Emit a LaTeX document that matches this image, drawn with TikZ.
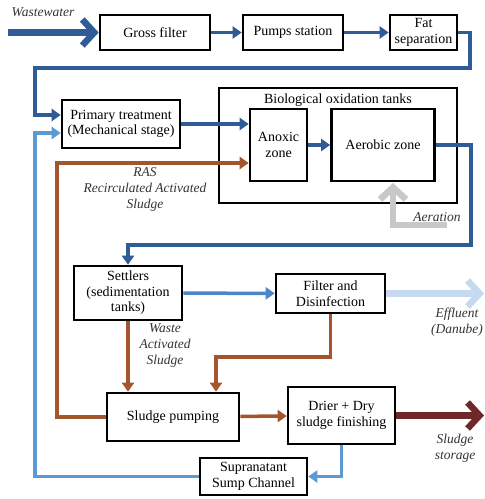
\documentclass[tikz,border=0pt]{standalone}
\usepackage{fontspec}
\setmainfont{Liberation Serif}
\usetikzlibrary{arrows.meta}
\definecolor{wblue}{RGB}{47,92,151}
\definecolor{mblue}{RGB}{74,134,200}
\definecolor{lblue}{RGB}{91,155,213}
\definecolor{effblue}{RGB}{198,217,240}
\definecolor{sbrown}{RGB}{165,85,45}
\definecolor{maroon}{RGB}{110,40,40}
\definecolor{airgray}{RGB}{200,200,200}
\begin{document}
\begin{tikzpicture}[x=1pt,y=-1pt,
  font=\fontsize{14}{15.5}\selectfont,
  box/.style={draw, line width=2.6pt, align=center, inner sep=0pt},
  flow/.style={line width=3.5pt, -{Triangle[length=9pt,width=12pt]}},
  bigarrow/.style={line width=6.5pt, -{Straight Barb[length=12pt,width=26pt]}},
  lab/.style={font=\fontsize{13.5}{16}\selectfont\itshape, align=center, text=black!80}]
\useasboundingbox (0,0) rectangle (485,499);

\node[box, minimum width=110pt, minimum height=35pt] (gross) at (155,32.5) {Gross filter};
\node[box, minimum width=100pt, minimum height=35pt] (pumps) at (293,32.5) {Pumps station};
\node[box, minimum width=67pt, minimum height=35pt] (fat) at (423.5,32.5) {Fat\\separation};
\node[box, minimum width=118pt, minimum height=48pt] (primary) at (121,124) {Primary treatment\\(Mechanical stage)};
\node[box, minimum width=238pt, minimum height=115pt] (bio) at (338,145.5) {};
\node (biotitle) at (338,100) {Biological oxidation tanks};
\node[box, minimum width=57pt, minimum height=72pt] (anoxic) at (278.5,145) {Anoxic\\zone};
\node[box, minimum width=103pt, minimum height=72pt] (aerobic) at (383,145) {Aerobic zone};
\node[box, minimum width=108pt, minimum height=54pt] (settlers) at (128,293) {Settlers\\(sedimentation\\tanks)};
\node[box, minimum width=109pt, minimum height=39pt] (filter) at (330.5,293.5) {Filter and\\Disinfection};
\node[box, minimum width=132pt, minimum height=48pt] (pumping) at (173,417) {Sludge pumping};
\node[box, minimum width=107pt, minimum height=57pt] (drier) at (341.5,415.5) {Drier + Dry\\sludge finishing};
\node[box, minimum width=107pt, minimum height=37pt] (sump) at (253.5,476.5) {Supranatant\\Sump Channel};

\node[lab] (wwlabel) at (43,12) {Wastewater};
\node[lab] (raslabel) at (145,189) {RAS\\Recirculated Activated\\Sludge};
\node[lab] (airlabel) at (437,217) {Aeration};
\node[lab] (waslabel) at (165,346) {Waste\\Activated\\Sludge};
\node[lab] (efflabel) at (457,322) {Effluent\\(Danube)};
\node[lab] (stlabel) at (455,448) {Sludge\\storage};

\coordinate (ww) at (8,32.5);
\coordinate (eff) at (484,293.5);
\coordinate (store) at (484,415.5);
\coordinate (air) at (447,225);
\coordinate (airtip) at (393,183);
\coordinate (ras) at (57,163);
\coordinate (ret) at (35,133);
\coordinate (fk) at (216,357);

\draw[bigarrow, wblue] (ww) -- (gross.west);
\draw[flow, wblue] (gross) -- (pumps);
\draw[flow, wblue] (pumps) -- (fat);
\draw[flow, wblue] (fat.east) -| (470,68) -| (35,115) -- ([yshift=9pt]primary.west);
\draw[flow, wblue] (primary.east) -- (primary.east -| anoxic.west);
\draw[flow, wblue] (anoxic) -- (aerobic);
\draw[flow, wblue] (aerobic.east) -| (471,245) -| (settlers.north);
\draw[flow, mblue] (settlers) -- (filter);
\draw[bigarrow, effblue] (filter.east) -- (eff);
\draw[bigarrow, airgray] (air) -| (airtip);
\draw[flow, sbrown] (settlers.south) -- (settlers.south |- pumping.north);
\draw[flow, sbrown] (filter.south) |- (fk) -- (fk |- pumping.north);
\draw[flow, sbrown] (pumping.west) -| (ras) -- (ras -| anoxic.west);
\draw[flow, sbrown] (pumping) -- (drier);
\draw[bigarrow, maroon] (drier.east) -- (store);
\draw[flow, lblue] (drier.south) |- (sump.east);
\draw[flow, lblue] (sump.west) -| (ret) -- (ret -| primary.west);
\end{tikzpicture}
\end{document}
